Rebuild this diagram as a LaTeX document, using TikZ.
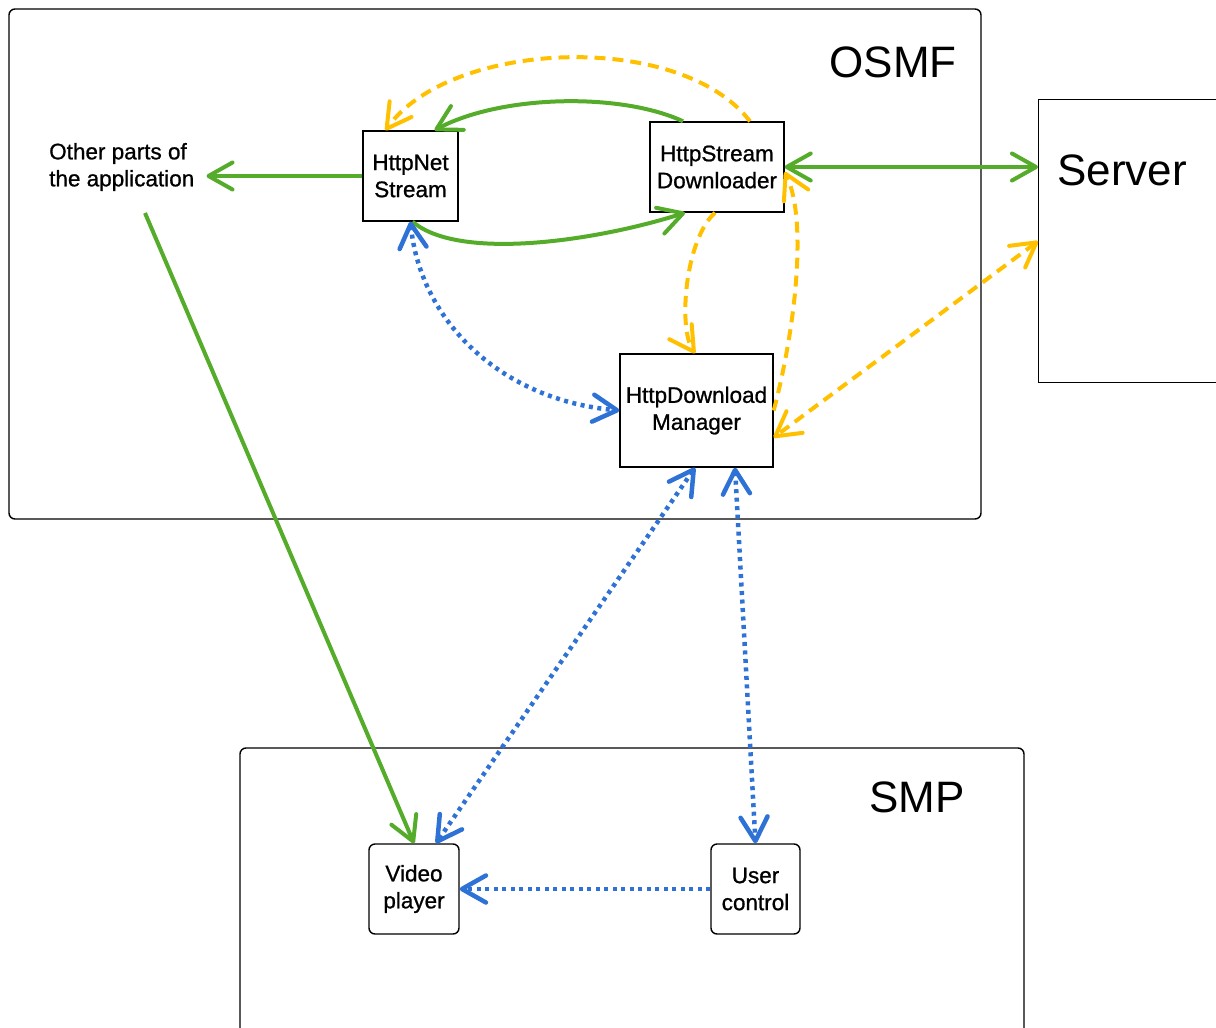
\documentclass[tikz,border=0pt]{standalone}
\usepackage{fontspec}
\setmainfont{Liberation Sans}
\newfontfamily\labfont{Liberation Sans}[FakeBold=0.9]
\usetikzlibrary{arrows.meta}
\definecolor{cgreen}{RGB}{84,172,42}
\definecolor{corange}{RGB}{255,192,0}
\definecolor{cblue}{RGB}{46,114,214}
\begin{document}
\begin{tikzpicture}[x=1pt,y=-1pt,
  box/.style={draw, line width=1.4pt, inner sep=0pt, align=center, font=\labfont\fontsize{22.5}{27}\selectfont},
  rbox/.style={box, rounded corners=6pt},
  big/.style={font=\fontsize{44}{50}\selectfont, inner sep=0pt},
  >={Straight Barb[length=24pt,width=27pt,round]},
  gline/.style={draw=cgreen, line width=4pt},
  oline/.style={draw=corange, line width=4pt, dash pattern=on 11pt off 7pt},
  bline/.style={draw=cblue, line width=4.5pt, dash pattern=on 4pt off 4.5pt},
]
\useasboundingbox (0,0) rectangle (1216,1028);
% containers
\draw[line width=1.4pt, rounded corners=6pt] (9,9) rectangle (981,519);
\draw[line width=1.4pt, rounded corners=6pt] (240,748) rectangle (1024,1045);
\node[draw, line width=1.4pt, minimum width=200pt, minimum height=283pt, inner sep=0pt, anchor=north west] (server) at (1038,99) {};
% labels
\node[big] (osmf) at (893,62) {OSMF};
\node[big] (serverlabel) at (1122,170) {Server};
\node[big] (smp) at (917,797) {SMP};
% nodes
\node[anchor=west, align=left, inner sep=4pt, font=\labfont\fontsize{22.5}{27}\selectfont] (other) at (45,167) {Other parts of\\the application};
\node[box, minimum width=95pt, minimum height=90pt] (httpnet) at (410.5,176) {HttpNet\\Stream};
\node[box, minimum width=134pt, minimum height=90pt] (downloader) at (717,167) {HttpStream\\Downloader};
\node[box, minimum width=153pt, minimum height=113pt] (manager) at (696.5,410.5) {HttpDownload\\Manager};
\node[rbox, minimum width=90pt, minimum height=90pt] (video) at (414,889) {Video\\player};
\node[rbox, minimum width=89pt, minimum height=90pt] (user) at (755.5,889) {User\\control};
\coordinate (ostart) at (145,213);
% green connectors
\draw[gline, ->, shorten >=8pt] (httpnet.west) -- (httpnet.west -| other.east);
\draw[gline, ->] ([xshift=-34pt]downloader.north) .. controls (620,92) and (500,95) .. ([xshift=24pt]httpnet.north);
\draw[gline, ->] ([xshift=2pt]httpnet.south) .. controls (460,262) and (600,240) .. ([xshift=-32pt]downloader.south);
\draw[gline, <->] (downloader.east) -- (downloader.east -| server.west);
\draw[gline, ->] (ostart) -- (video.north);
% orange connectors
\draw[oline, ->] ([xshift=33pt]downloader.north) .. controls (680,30) and (450,40) .. ([xshift=-25pt]httpnet.north);
\draw[oline, ->] ([xshift=-2pt]downloader.south) .. controls (685,240) and (678,328) .. ([xshift=-1.5pt]manager.north);
\draw[oline, ->] (manager.east) .. controls (795,330) and (808,220) .. ([yshift=-5pt]downloader.east);
\draw[oline, <->] (server.west) -- ([yshift=-27pt]manager.east);
% blue connectors
\draw[bline, <->] (httpnet.south) .. controls (420,320) and (500,400) .. (manager.west);
\draw[bline, <->] ([xshift=-1.5pt]manager.south) -- ([xshift=22pt]video.north);
\draw[bline, <->] ([xshift=38.5pt]manager.south) -- (user.north);
\draw[bline, ->] (user.west) -- (video.east);
\end{tikzpicture}
\end{document}
